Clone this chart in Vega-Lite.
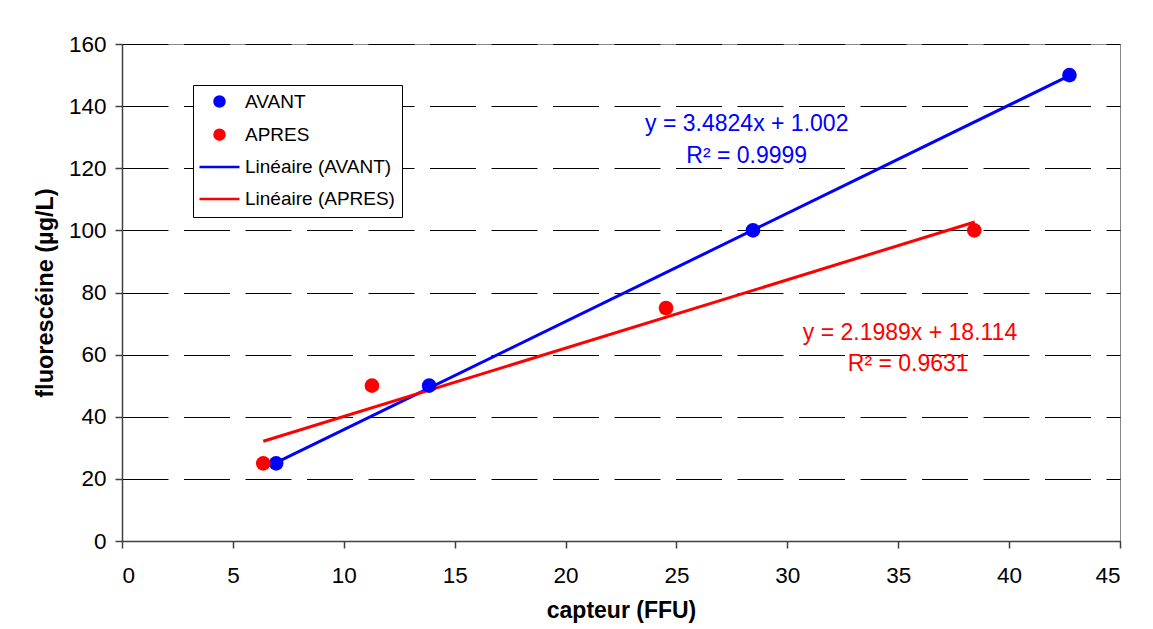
{
  "$schema": "https://vega.github.io/schema/vega-lite/v6.json",
  "width": 998,
  "height": 497,
  "autosize": {"type": "none"},
  "padding": {"left": 122, "top": 44, "right": 33, "bottom": 88},
  "background": "white",
  "config": {
    "font": "Liberation Sans",
    "view": {"stroke": "#888888", "strokeWidth": 1},
    "axis": {
      "labelFont": "Liberation Sans",
      "titleFont": "Liberation Sans",
      "labelColor": "black",
      "titleColor": "black",
      "domainColor": "#404040",
      "tickColor": "#404040",
      "labelFontSize": 22.5,
      "titleFontSize": 23,
      "titleFontWeight": "bold",
      "tickSize": 7,
      "domainWidth": 1.5,
      "tickWidth": 1.5
    },
    "legend": {
      "orient": "none",
      "legendX": 71,
      "legendY": 41,
      "padding": 7,
      "strokeColor": "black",
      "fillColor": "white",
      "labelFont": "Liberation Sans",
      "labelFontSize": 19,
      "labelColor": "black",
      "symbolSize": 100,
      "symbolStrokeWidth": 2.5,
      "symbolOffset": 10,
      "rowPadding": 12.2,
      "labelOffset": 16
    }
  },
  "datasets": {
    "points": [
      {"x": 6.95, "y": 25, "serie": "AVANT"},
      {"x": 13.85, "y": 50, "serie": "AVANT"},
      {"x": 28.45, "y": 100, "serie": "AVANT"},
      {"x": 42.72, "y": 150, "serie": "AVANT"},
      {"x": 6.37, "y": 25, "serie": "APRES"},
      {"x": 11.27, "y": 50, "serie": "APRES"},
      {"x": 24.53, "y": 75, "serie": "APRES"},
      {"x": 38.43, "y": 100, "serie": "APRES"}
    ],
    "fits": [
      {"x": 6.95, "y": 25.2, "serie": "Linéaire (AVANT)"},
      {"x": 42.72, "y": 149.8, "serie": "Linéaire (AVANT)"},
      {"x": 6.37, "y": 32.1, "serie": "Linéaire (APRES)"},
      {"x": 38.45, "y": 102.7, "serie": "Linéaire (APRES)"}
    ],
    "eqBlue": [
      {"x": 28.17, "y": 134.4, "t": "y = 3.4824x + 1.002"},
      {"x": 28.17, "y": 124.0, "t": "R² = 0.9999"}
    ],
    "eqRed": [
      {"x": 35.53, "y": 67.0, "t": "y = 2.1989x + 18.114"},
      {"x": 35.45, "y": 57.0, "t": "R² = 0.9631"}
    ]
  },
  "encoding": {
    "x": {
      "field": "x",
      "type": "quantitative",
      "scale": {"domain": [0, 45], "nice": false, "zero": false},
      "axis": {
        "title": "capteur (FFU)",
        "values": [0, 5, 10, 15, 20, 25, 30, 35, 40, 45],
        "grid": false,
        "labelPadding": 16,
        "titlePadding": 13
      }
    },
    "y": {
      "field": "y",
      "type": "quantitative",
      "scale": {"domain": [0, 160], "nice": false},
      "axis": {
        "title": "fluorescéine (µg/L)",
        "titleFontSize": 23.5,
        "values": [0, 20, 40, 60, 80, 100, 120, 140, 160],
        "grid": true,
        "gridColor": "black",
        "gridWidth": 1,
        "gridDash": [46, 15.5],
        "labelPadding": 9,
        "titlePadding": 11
      }
    }
  },
  "layer": [
    {
      "data": {"name": "fits"},
      "mark": {"type": "line", "strokeWidth": 3},
      "encoding": {
        "color": {
          "field": "serie",
          "type": "nominal",
          "scale": {
            "domain": ["AVANT", "APRES", "Linéaire (AVANT)", "Linéaire (APRES)"],
            "range": ["#0000ff", "#ff0000", "#0000ff", "#ff0000"]
          },
          "legend": {
            "title": null,
            "encode": {
              "symbols": {
                "update": {
                  "fill": {"scale": "color", "field": "value"},
                  "stroke": {"scale": "color", "field": "value"},
                  "strokeWidth": {"value": 2.5},
                  "size": {"value": 100},
                  "opacity": {"value": 1}
                }
              }
            }
          }
        }
      }
    },
    {
      "data": {"name": "points"},
      "mark": {"type": "point", "filled": true, "size": 215, "opacity": 1},
      "encoding": {
        "color": {
          "field": "serie",
          "type": "nominal",
          "scale": {
            "domain": ["AVANT", "APRES", "Linéaire (AVANT)", "Linéaire (APRES)"],
            "range": ["#0000ff", "#ff0000", "#0000ff", "#ff0000"]
          },
          "legend": {
            "title": null,
            "encode": {
              "symbols": {
                "update": {
                  "fill": {"scale": "color", "field": "value"},
                  "stroke": {"scale": "color", "field": "value"},
                  "strokeWidth": {"value": 2.5},
                  "size": {"value": 100},
                  "opacity": {"value": 1}
                }
              }
            }
          }
        },
        "shape": {
          "field": "serie",
          "type": "nominal",
          "scale": {
            "domain": ["AVANT", "APRES", "Linéaire (AVANT)", "Linéaire (APRES)"],
            "range": ["circle", "circle", "M-4,0H4", "M-4,0H4"]
          },
          "legend": {
            "title": null,
            "encode": {
              "symbols": {
                "update": {
                  "fill": {"scale": "color", "field": "value"},
                  "stroke": {"scale": "color", "field": "value"},
                  "strokeWidth": {"value": 2.5},
                  "size": {"value": 100},
                  "opacity": {"value": 1}
                }
              }
            }
          }
        }
      }
    },
    {
      "data": {"name": "eqBlue"},
      "mark": {"type": "text", "color": "#0000ff", "fontSize": 23, "align": "center", "baseline": "middle", "font": "Liberation Sans"},
      "encoding": {"text": {"field": "t"}}
    },
    {
      "data": {"name": "eqRed"},
      "mark": {"type": "text", "color": "#ff0000", "fontSize": 23, "align": "center", "baseline": "middle", "font": "Liberation Sans"},
      "encoding": {"text": {"field": "t"}}
    }
  ]
}
